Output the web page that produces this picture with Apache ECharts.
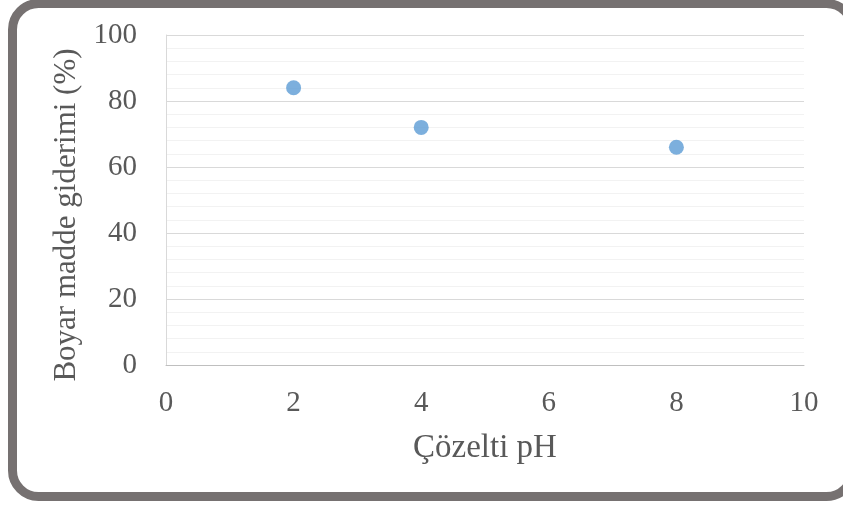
<!DOCTYPE html>
<html><head><meta charset="utf-8">
<script src="https://cdn.jsdelivr.net/npm/echarts@6/dist/echarts.min.js"></script>
<style>html,body{margin:0;padding:0;background:#fff}#c{width:843px;height:505px}</style>
</head><body><div id="c"></div>
<script>
const phValues = [2, 4, 8];
const removalValues = [84, 72, 66];
const xTitle = 'Çözelti pH';
const yTitle = 'Boyar madde giderimi (%)';

const chart = echarts.init(document.getElementById('c'));
const font = 'Liberation Serif';
chart.setOption({
  animation: false,
  backgroundColor: '#fff',
  grid: {left: 166, right: 39, top: 35, bottom: 140},
  graphic: [{
    type: 'rect', z: 100, silent: true,
    shape: {x: 12.5, y: 3.5, width: 840, height: 493, r: 26},
    style: {fill: 'none', stroke: '#767171', lineWidth: 9}
  }],
  xAxis: {
    type: 'value', min: 0, max: 10, interval: 2,
    name: xTitle, nameLocation: 'middle', nameGap: 67,
    nameTextStyle: {fontFamily: font, fontSize: 33, color: '#595959'},
    axisLine: {show: true, lineStyle: {color: '#bfbfbf', width: 1}},
    axisTick: {show: false},
    splitLine: {show: false},
    axisLabel: {fontFamily: font, fontSize: 29, color: '#595959', margin: 24}
  },
  yAxis: {
    type: 'value', min: 0, max: 100, interval: 20,
    name: yTitle, nameLocation: 'middle', nameGap: 80,
    nameTextStyle: {fontFamily: font, fontSize: 31, color: '#595959', padding: [0, 30, 0, 0]},
    axisLine: {show: true, lineStyle: {color: '#d9d9d9', width: 1}},
    axisTick: {show: false},
    splitLine: {show: true, lineStyle: {color: '#d9d9d9', width: 1}},
    minorTick: {show: false, splitNumber: 5},
    minorSplitLine: {show: true, lineStyle: {color: '#f2f2f2', width: 1}},
    axisLabel: {fontFamily: font, fontSize: 29, color: '#595959', margin: 29}
  },
  series: [{
    type: 'scatter',
    data: phValues.map((x, i) => [x, removalValues[i]]),
    symbol: 'circle', symbolSize: 15,
    itemStyle: {color: '#5b9bd5'}
  }]
});
</script></body></html>
